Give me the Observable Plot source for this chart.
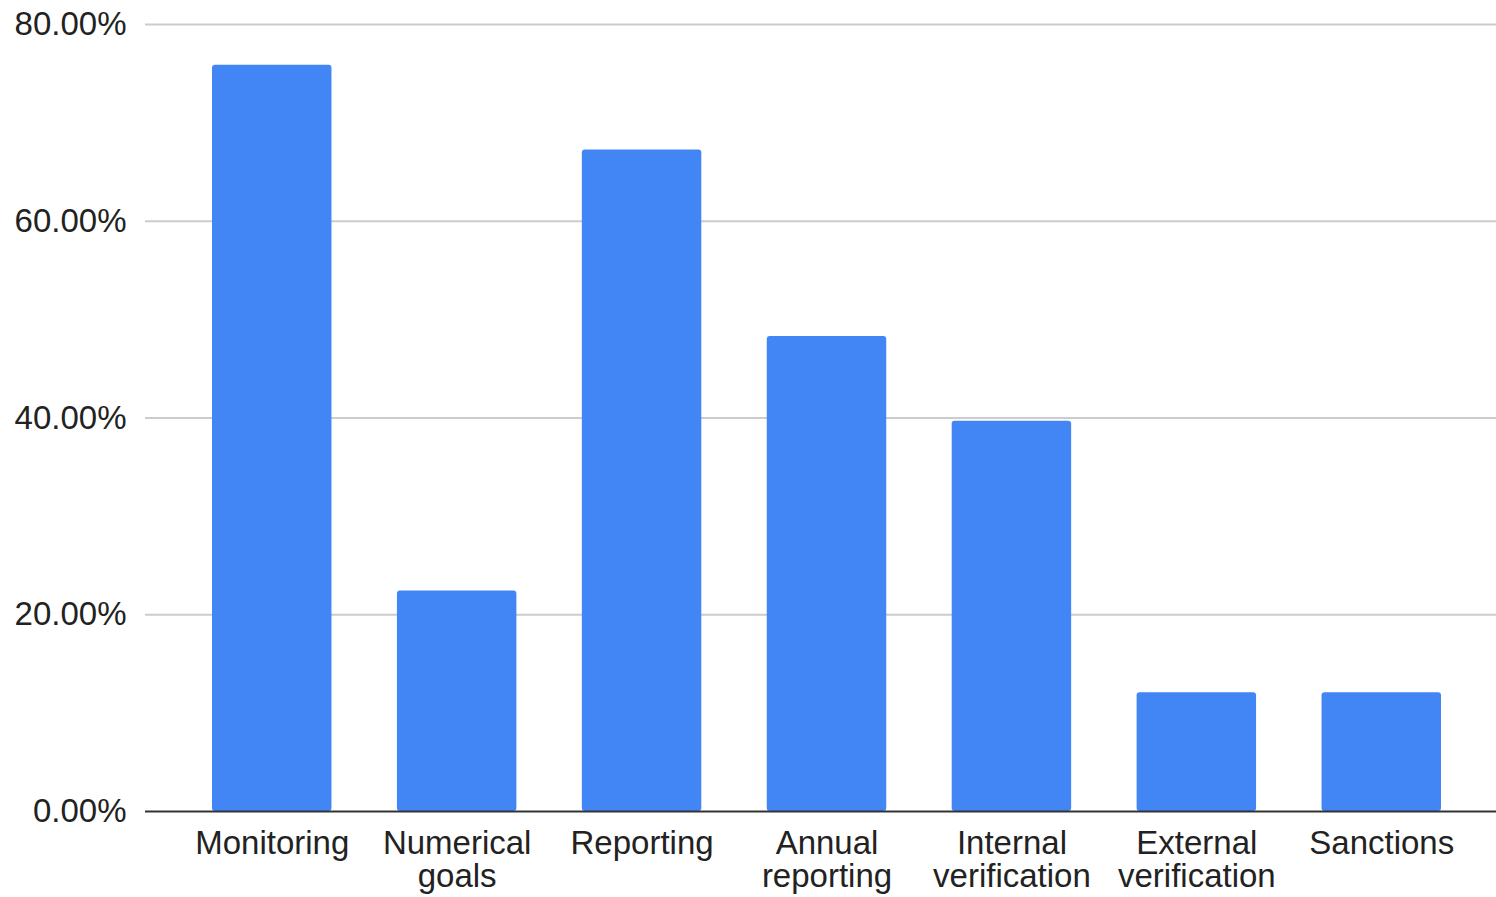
<!DOCTYPE html>
<html>
<head>
<meta charset="utf-8">
<script src="https://cdn.jsdelivr.net/npm/d3@7"></script>
<script src="https://cdn.jsdelivr.net/npm/@observablehq/plot@0.6"></script>
<style>
  html, body { margin: 0; padding: 0; background: #fff; }
</style>
</head>
<body>
<div id="chart"></div>
<script>
const categories = ["Monitoring", "Numerical goals", "Reporting", "Annual reporting", "Internal verification", "External verification", "Sanctions"];
const labels = ["Monitoring", "Numerical\ngoals", "Reporting", "Annual\nreporting", "Internal\nverification", "External\nverification", "Sanctions"];
const values = [75.86, 22.41, 67.24, 48.28, 39.66, 12.07, 12.07];
const yTicks = [0, 20, 40, 60, 80];

const data = categories.map((c, i) => ({category: c, value: values[i]}));
const labelOf = new Map(categories.map((c, i) => [c, labels[i]]));

const chart = Plot.plot({
  width: 1496,
  height: 897,
  marginLeft: 145,
  marginRight: 0,
  marginTop: 24,
  marginBottom: 86,
  style: {fontFamily: "'Liberation Sans', Arial, sans-serif", fontSize: "33px", color: "#222", background: "#fff"},
  x: {domain: categories, range: [212, 1441], paddingInner: 0.354, paddingOuter: 0, round: false},
  y: {domain: [0, 80], ticks: yTicks},
  marks: [
    Plot.ruleY(yTicks.filter(d => d > 0), {stroke: "#cccccc", strokeWidth: 2, strokeOpacity: 1}),
    Plot.barY(data, {x: "category", y: "value", fill: "#4285F4", rx: 3}),
    Plot.ruleY([0], {stroke: "#333333", strokeWidth: 2, strokeOpacity: 1}),
    Plot.axisY({ticks: yTicks, tickSize: 0, tickPadding: 19, tickFormat: d => d.toFixed(2) + "%", fill: "#222", label: null}),
    Plot.axisX({tickSize: 0, tickPadding: 19, tickFormat: d => labelOf.get(d), lineHeight: 1.0, fill: "#222", label: null})
  ]
});
document.getElementById("chart").appendChild(chart);
</script>
</body>
</html>
